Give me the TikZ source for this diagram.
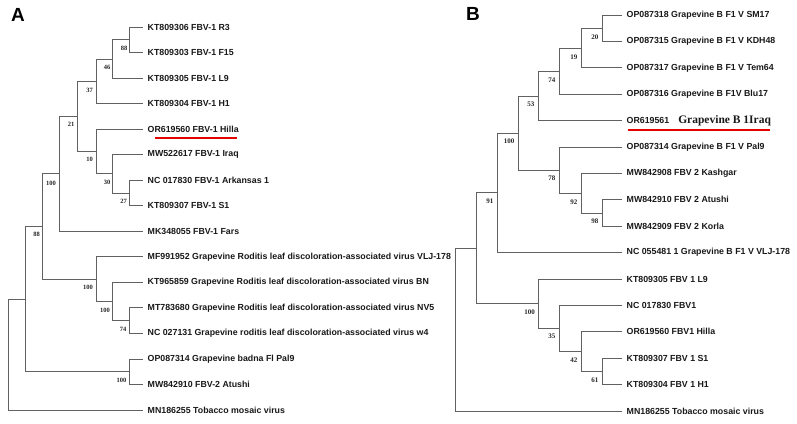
\documentclass[tikz,border=0pt]{standalone}
\usepackage{fontspec}
\setmainfont{Liberation Sans}
\newfontfamily\bsfont{Liberation Serif}
\begin{document}
\begin{tikzpicture}[x=1pt,y=-1pt,
  edge/.style={draw=black!62,line width=0.7pt},
  tip/.style={anchor=west,inner ysep=0pt,inner xsep=4.5pt,font=\fontsize{8.8}{10}\selectfont\bfseries,text=black!90},
  bs/.style={anchor=east,inner sep=0pt,font=\bsfont\fontsize{6.5}{7}\selectfont\bfseries,text=black!85},
  bsb/.style={anchor=east,inner sep=0pt,font=\bsfont\fontsize{7}{8}\selectfont\bfseries,text=black!85},
  panel/.style={anchor=north west,inner sep=0pt,font=\fontsize{19}{21}\selectfont\bfseries},
  redline/.style={draw=red!90!black,line width=2.6pt}]
\useasboundingbox (0,0) rectangle (797,423);
\fill[white] (0,0) rectangle (797,423);

%% ---------------- Panel A ----------------
\node[panel] (pA) at (11,8) {A};
\node[tip] (a0)  at (143,27.0)  {KT809306 FBV-1 R3};
\node[tip] (a1)  at (143,52.5)  {KT809303 FBV-1 F15};
\node[tip] (a2)  at (143,78.1)  {KT809305 FBV-1 L9};
\node[tip] (a3)  at (143,103.6) {KT809304 FBV-1 H1};
\node[tip] (a4)  at (143,129.1) {OR619560 FBV-1 Hilla};
\node[tip] (a5)  at (143,154.7) {MW522617 FBV-1 Iraq};
\node[tip] (a6)  at (143,180.2) {NC 017830 FBV-1 Arkansas 1};
\node[tip] (a7)  at (143,205.7) {KT809307 FBV-1 S1};
\node[tip] (a8)  at (143,231.2) {MK348055 FBV-1 Fars};
\node[tip] (a9)  at (143,256.8) {MF991952 Grapevine Roditis leaf discoloration-associated virus VLJ-178};
\node[tip] (a10) at (143,282.3) {KT965859 Grapevine Roditis leaf discoloration-associated virus BN};
\node[tip] (a11) at (143,307.8) {MT783680 Grapevine Roditis leaf discoloration-associated virus NV5};
\node[tip] (a12) at (143,333.4) {NC 027131 Grapevine roditis leaf discoloration-associated virus w4};
\node[tip] (a13) at (143,358.9) {OP087314 Grapevine badna Fl Pal9};
\node[tip] (a14) at (143,384.4) {MW842910 FBV-2 Atushi};
\node[tip] (a15) at (143,410.0) {MN186255 Tobacco mosaic virus};

\coordinate (nR)    at (129,39.75);
\coordinate (nL9)   at (112,58.9);
\coordinate (nH1)   at (96,81.3);
\coordinate (nS1)   at (129,193.0);
\coordinate (nIraq) at (112,173.8);
\coordinate (nHil)  at (96,151.5);
\coordinate (n21)   at (77,116.4);
\coordinate (n100a) at (59,173.8);
\coordinate (nW4)   at (129,320.6);
\coordinate (nBN)   at (112,301.5);
\coordinate (nRod)  at (96,279.1);
\coordinate (n88)   at (42,226.5);
\coordinate (nF2)   at (129,371.7);
\coordinate (nIn)   at (25,299.1);
\coordinate (nRoot) at (8,354.5);

\draw[edge] (nR) |- (a0.west) (nR) |- (a1.west);
\draw[edge] (nL9) |- (nR) (nL9) |- (a2.west);
\draw[edge] (nH1) |- (nL9) (nH1) |- (a3.west);
\draw[edge] (nS1) |- (a6.west) (nS1) |- (a7.west);
\draw[edge] (nIraq) |- (a5.west) (nIraq) |- (nS1);
\draw[edge] (nHil) |- (a4.west) (nHil) |- (nIraq);
\draw[edge] (n21) |- (nH1) (n21) |- (nHil);
\draw[edge] (n100a) |- (n21) (n100a) |- (a8.west);
\draw[edge] (nW4) |- (a11.west) (nW4) |- (a12.west);
\draw[edge] (nBN) |- (a10.west) (nBN) |- (nW4);
\draw[edge] (nRod) |- (a9.west) (nRod) |- (nBN);
\draw[edge] (n88) |- (n100a) (n88) |- (nRod);
\draw[edge] (nF2) |- (a13.west) (nF2) |- (a14.west);
\draw[edge] (nIn) |- (n88) (nIn) |- (nF2);
\draw[edge] (nRoot) |- (nIn) (nRoot) |- (a15.west);

\node[bs] (lR)    at (127.5,48.0)  {88};
\node[bs] (lL9)   at (110.5,67.0)  {46};
\node[bs] (lH1)   at (93,90.5)   {37};
\node[bs] (l21)   at (74.5,124.5)  {21};
\node[bs] (lHil)  at (93,159.5)  {10};
\node[bs] (lIraq) at (110.5,182.0) {30};
\node[bs] (lS1)   at (127,201.5) {27};
\node[bs] (l100a) at (56,183.0)  {100};
\node[bs] (l88)   at (40,234.5)  {88};
\node[bs] (lRod)  at (93,287.5)  {100};
\node[bs] (lBN)   at (110,310.0) {100};
\node[bs] (lW4)   at (126.5,329.0) {74};
\node[bs] (lF2)   at (126.5,380.5) {100};

\coordinate (rA1) at (155,138);
\coordinate (rA2) at (237,138);
\draw[redline] (rA1) -- (rA2);

%% ---------------- Panel B ----------------
\node[panel] (pB) at (466,7) {B};
\node[tip] (b0)  at (622,15.0)  {OP087318 Grapevine B F1 V SM17};
\node[tip] (b1)  at (622,41.4)  {OP087315 Grapevine B F1 V KDH48};
\node[tip] (b2)  at (622,67.8)  {OP087317 Grapevine B F1 V Tem64};
\node[tip] (b3)  at (622,94.2)  {OP087316 Grapevine B F1V Blu17};
\node[tip] (b4)  at (622,120.6) {OR619561\hspace{9pt}{\bsfont\fontsize{11.5}{12}\selectfont\bfseries Grapevine B 1Iraq}};
\node[tip] (b5)  at (622,147.0) {OP087314 Grapevine B F1 V Pal9};
\node[tip] (b6)  at (622,173.4) {MW842908 FBV 2 Kashgar};
\node[tip] (b7)  at (622,199.8) {MW842910 FBV 2 Atushi};
\node[tip] (b8)  at (622,226.2) {MW842909 FBV 2 Korla};
\node[tip] (b9)  at (622,252.6) {NC 055481 1 Grapevine B F1 V VLJ-178};
\node[tip] (b10) at (622,279.0) {KT809305 FBV 1 L9};
\node[tip] (b11) at (622,305.4) {NC 017830 FBV1};
\node[tip] (b12) at (622,331.8) {OR619560 FBV1 Hilla};
\node[tip] (b13) at (622,358.2) {KT809307 FBV 1 S1};
\node[tip] (b14) at (622,384.6) {KT809304 FBV 1 H1};
\node[tip] (b15) at (622,411.0) {MN186255 Tobacco mosaic virus};

\coordinate (m20)   at (602,28.2);
\coordinate (m19)   at (581,48.0);
\coordinate (m74)   at (559,71.1);
\coordinate (m53)   at (538,95.85);
\coordinate (m98)   at (602,213.0);
\coordinate (m92)   at (581,193.2);
\coordinate (m78)   at (559,170.1);
\coordinate (m100)  at (518,133.0);
\coordinate (m91)   at (497,192.8);
\coordinate (m61)   at (602,371.4);
\coordinate (m42)   at (581,351.6);
\coordinate (m35)   at (559,328.5);
\coordinate (m100f) at (538,303.75);
\coordinate (mIn)   at (476,248.3);
\coordinate (mRoot) at (455,329.6);

\draw[edge] (m20) |- (b0.west) (m20) |- (b1.west);
\draw[edge] (m19) |- (m20) (m19) |- (b2.west);
\draw[edge] (m74) |- (m19) (m74) |- (b3.west);
\draw[edge] (m53) |- (m74) (m53) |- (b4.west);
\draw[edge] (m98) |- (b7.west) (m98) |- (b8.west);
\draw[edge] (m92) |- (b6.west) (m92) |- (m98);
\draw[edge] (m78) |- (b5.west) (m78) |- (m92);
\draw[edge] (m100) |- (m53) (m100) |- (m78);
\draw[edge] (m91) |- (m100) (m91) |- (b9.west);
\draw[edge] (m61) |- (b13.west) (m61) |- (b14.west);
\draw[edge] (m42) |- (b12.west) (m42) |- (m61);
\draw[edge] (m35) |- (b11.west) (m35) |- (m42);
\draw[edge] (m100f) |- (b10.west) (m100f) |- (m35);
\draw[edge] (mIn) |- (m91) (mIn) |- (m100f);
\draw[edge] (mRoot) |- (mIn) (mRoot) |- (b15.west);

\node[bsb] (k20)   at (598.5,37.0)  {20};
\node[bsb] (k19)   at (577.5,57.0)  {19};
\node[bsb] (k74)   at (555.5,80.0)  {74};
\node[bsb] (k53)   at (534.5,104.0) {53};
\node[bsb] (k100)  at (514.5,141.5) {100};
\node[bsb] (k78)   at (555.5,178.5) {78};
\node[bsb] (k92)   at (577.5,202.0) {92};
\node[bsb] (k98)   at (598.5,221.5) {98};
\node[bsb] (k91)   at (493.5,201.5) {91};
\node[bsb] (k100f) at (535,312.0)  {100};
\node[bsb] (k35)   at (555.5,336.5) {35};
\node[bsb] (k42)   at (577.5,360.0) {42};
\node[bsb] (k61)   at (598.5,380.0) {61};

\coordinate (rB1) at (628,130);
\coordinate (rB2) at (770,130);
\draw[redline] (rB1) -- (rB2);
\end{tikzpicture}
\end{document}
